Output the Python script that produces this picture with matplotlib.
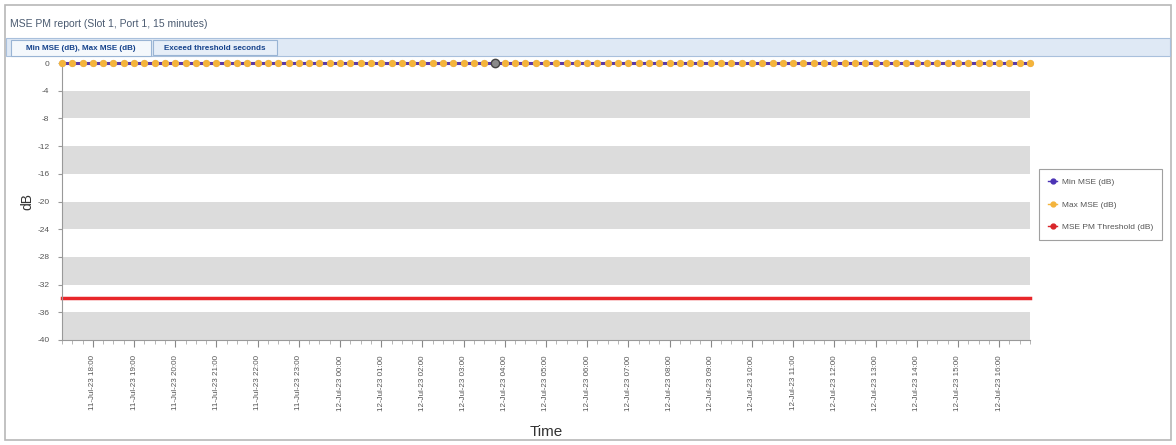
import matplotlib
matplotlib.use("Agg")
import matplotlib.pyplot as plt
import matplotlib.dates as mdates
from matplotlib.patches import Rectangle
import pandas as pd

plt.rcParams['font.family'] = ['Liberation Sans', 'DejaVu Sans']
plt.rcParams['axes.unicode_minus'] = False

# 15 minute samples, 11-Jul-23 17:15 -> 12-Jul-23 16:45
times = pd.date_range("2023-07-11 17:15", "2023-07-12 16:45", freq="15min")

min_mse = [
    0.0, 0.0, 0.0, 0.0, 0.0, 0.0, 0.0, 0.0, 0.0, 0.0, 0.0, 0.0,
    0.0, 0.0, 0.0, 0.0, 0.0, 0.0, 0.0, 0.0, 0.0, 0.0, 0.0, 0.0,
    0.0, 0.0, 0.0, 0.0, 0.0, 0.0, 0.0, 0.0, 0.0, 0.0, 0.0, 0.0,
    0.0, 0.0, 0.0, 0.0, 0.0, 0.0, 0.0, 0.0, 0.0, 0.0, 0.0, 0.0,
    0.0, 0.0, 0.0, 0.0, 0.0, 0.0, 0.0, 0.0, 0.0, 0.0, 0.0, 0.0,
    0.0, 0.0, 0.0, 0.0, 0.0, 0.0, 0.0, 0.0, 0.0, 0.0, 0.0, 0.0,
    0.0, 0.0, 0.0, 0.0, 0.0, 0.0, 0.0, 0.0, 0.0, 0.0, 0.0, 0.0,
    0.0, 0.0, 0.0, 0.0, 0.0, 0.0, 0.0, 0.0, 0.0, 0.0, 0.0,
]
max_mse = [
    0.0, 0.0, 0.0, 0.0, 0.0, 0.0, 0.0, 0.0, 0.0, 0.0, 0.0, 0.0,
    0.0, 0.0, 0.0, 0.0, 0.0, 0.0, 0.0, 0.0, 0.0, 0.0, 0.0, 0.0,
    0.0, 0.0, 0.0, 0.0, 0.0, 0.0, 0.0, 0.0, 0.0, 0.0, 0.0, 0.0,
    0.0, 0.0, 0.0, 0.0, 0.0, 0.0, 0.0, 0.0, 0.0, 0.0, 0.0, 0.0,
    0.0, 0.0, 0.0, 0.0, 0.0, 0.0, 0.0, 0.0, 0.0, 0.0, 0.0, 0.0,
    0.0, 0.0, 0.0, 0.0, 0.0, 0.0, 0.0, 0.0, 0.0, 0.0, 0.0, 0.0,
    0.0, 0.0, 0.0, 0.0, 0.0, 0.0, 0.0, 0.0, 0.0, 0.0, 0.0, 0.0,
    0.0, 0.0, 0.0, 0.0, 0.0, 0.0, 0.0, 0.0, 0.0, 0.0, 0.0,
]
threshold = -34
hover_time = pd.Timestamp("2023-07-12 03:45")

y_ticks = [0, -4, -8, -12, -16, -20, -24, -28, -32, -36, -40]

fig = plt.figure(figsize=(11.76, 4.45), dpi=100)

# panel frame, title, tab bar
fig.patches.append(Rectangle((5/1176, 5/445), 1166/1176, 435/445, transform=fig.transFigure,
                             facecolor="white", edgecolor="#b8b8b8", lw=1.2, zorder=-5))
fig.text(10/1176, 1-24/445, "MSE PM report (Slot 1, Port 1, 15 minutes)", fontsize=7.5,
         color="#4a5a70", va="center")
fig.patches.append(Rectangle((6/1176, 1-56/445), 1164/1176, 18/445, transform=fig.transFigure,
                             facecolor="#dfe9f5", edgecolor="#a9c0dc", lw=0.8, zorder=-4))
fig.patches.append(Rectangle((11/1176, 1-56/445), 140/1176, 16/445, transform=fig.transFigure,
                             facecolor="#f4f8fc", edgecolor="#99b4d4", lw=0.8, zorder=-3))
fig.patches.append(Rectangle((153/1176, 1-55/445), 124/1176, 15/445, transform=fig.transFigure,
                             facecolor="#e6eef8", edgecolor="#99b4d4", lw=0.8, zorder=-3))
fig.text(81/1176, 1-48/445, "Min MSE (dB), Max MSE (dB)", fontsize=5.8, color="#15428b",
         ha="center", va="center", fontweight="bold")
fig.text(215/1176, 1-48/445, "Exceed threshold seconds", fontsize=5.8, color="#15428b",
         ha="center", va="center", fontweight="bold")

ax = fig.add_axes([62/1176, 1-340/445, 968/1176, 277/445])
ax.set_ylim(-40, 0)
ax.set_xlim(times[0], times[-1])
ax.patch.set_alpha(0)

# alternating grey bands
for lo in y_ticks[1::2]:
    ax.axhspan(lo - 4, lo, color="#dcdcdc", lw=0, zorder=0)

ax.plot(times, [threshold] * len(times), color="#e8262a", lw=2.5, zorder=2, clip_on=False)
ax.plot(times, min_mse, color="#5a3aa8", lw=2.2, marker="s", ms=2.5, zorder=3, clip_on=False)
ax.plot(times, max_mse, color="#f4b43c", lw=0, marker="o", ms=4.2, mec="#f4b43c",
        zorder=4, clip_on=False)
ax.plot([hover_time], [0], marker="o", ms=6, mfc="#8a8a8a", mec="#444444", mew=1,
        zorder=5, clip_on=False)

for s in ["top", "right"]:
    ax.spines[s].set_visible(False)
ax.spines["left"].set_color("#999999")
ax.spines["bottom"].set_color("#999999")

ax.set_yticks(y_ticks)
ax.tick_params(axis="y", labelsize=6, colors="#555555", length=3, color="#999999", pad=6)

ax.xaxis.set_major_locator(mdates.HourLocator(byhour=range(0, 24)))
ax.xaxis.set_minor_locator(mdates.MinuteLocator(byminute=[0, 15, 30, 45]))
ax.xaxis.set_major_formatter(mdates.DateFormatter("%d-%b-%y %H:%M"))
ax.tick_params(axis="x", which="major", labelsize=5.8, colors="#555555", length=5,
               color="#888888", rotation=90, pad=6)
ax.tick_params(axis="x", which="minor", length=3, color="#aaaaaa")

ax.set_ylabel("dB", fontsize=10, color="#333333", labelpad=2)
ax.set_xlabel("Time", fontsize=11, color="#333333", labelpad=10)

handles = [
    plt.Line2D([], [], color="#4b33b5", marker="o", ms=3.5, lw=1),
    plt.Line2D([], [], color="#f4b43c", marker="o", ms=3.5, lw=1),
    plt.Line2D([], [], color="#d9262a", marker="o", ms=3.5, lw=1),
]
leg = fig.legend(handles, ["Min MSE (dB)", "Max MSE (dB)", "MSE PM Threshold (dB)"],
                 loc="upper left", bbox_to_anchor=(1035/1176, 1-165/445), fontsize=6,
                 frameon=True, fancybox=False, handlelength=1.0, handletextpad=0.6,
                 labelspacing=1.75, borderpad=1.1, labelcolor="#555555")
leg.get_frame().set_edgecolor("#888888")
leg.get_frame().set_linewidth(0.8)

fig.savefig("out.png", dpi=100)
